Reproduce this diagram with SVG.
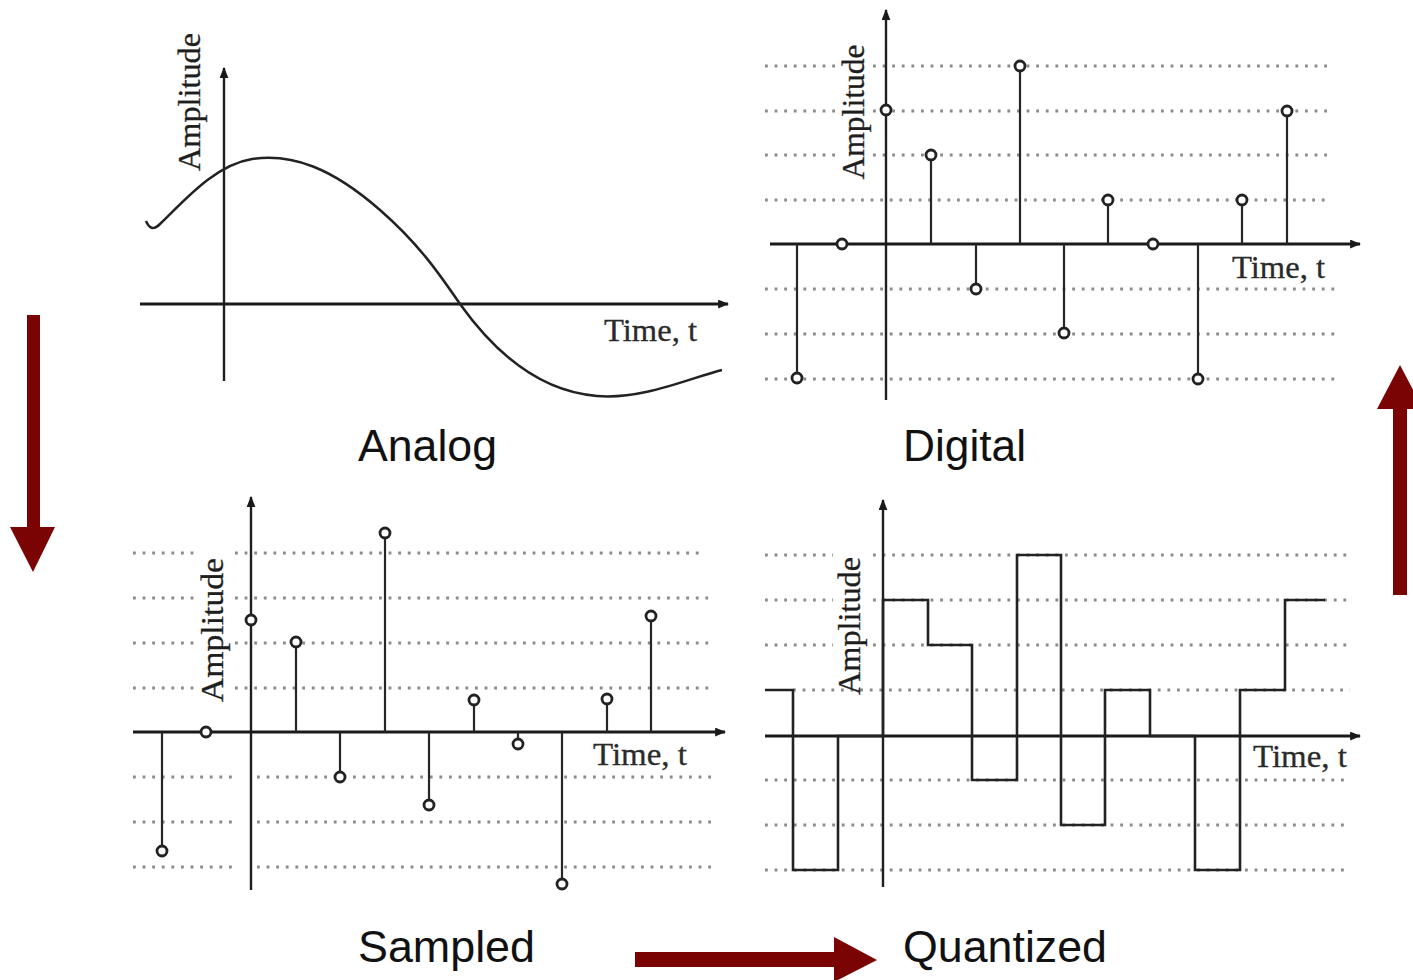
<svg xmlns="http://www.w3.org/2000/svg" width="1413" height="980" viewBox="0 0 1413 980">
  <style>
    .axis { stroke: #1f1f1f; stroke-width: 2.4; fill: none; }
    .haxis { stroke: #1a1a1a; stroke-width: 3; fill: none; }
    .grid { stroke: #8a8a8a; stroke-width: 2.8; stroke-dasharray: 2.8 6.8; fill: none; }
    .stem { stroke: #262626; stroke-width: 2.2; fill: none; }
    .dot { stroke: #222; stroke-width: 2.8; fill: #fff; }
    .wave { stroke: #222; stroke-width: 2.5; fill: none; }
    .step { stroke: #222; stroke-width: 2.6; fill: none; }
    .amp { font-family: "Liberation Serif", "Times New Roman", serif; font-size: 31px; fill: #1e1e1e; stroke: #1e1e1e; stroke-width: 0.3; text-anchor: middle; }
    .time { font-family: "Liberation Serif", "Times New Roman", serif; font-size: 32px; fill: #2a2a2a; stroke: #2a2a2a; stroke-width: 0.3; }
    .title { font-family: "Liberation Sans", Arial, sans-serif; font-size: 44px; fill: #111; }
    .flow { fill: #7a0303; }
  </style>
  <defs>
    <marker id="tip" viewBox="0 0 10 8" refX="9" refY="4" markerWidth="11" markerHeight="9" markerUnits="userSpaceOnUse" orient="auto">
      <path d="M0,0 L10,4 L0,8 Z" fill="#1a1a1a"/>
    </marker>
  </defs>

  <rect width="1413" height="980" fill="#fff"/>

  <!-- Analog: continuous waveform -->
  <g id="analog">
    <line class="axis" x1="224" y1="381" x2="224" y2="68" marker-end="url(#tip)"/>
    <line class="haxis" x1="140" y1="304" x2="728" y2="304" marker-end="url(#tip)"/>
    <path class="wave" d="M146,221 C149,228 153,231 160,224 C185,200 215,165 252,159 C292,153 332,168 380,210 C420,245 440,275 460,304 C500,360 545,392 597,396 C642,400 690,378 722,370"/>
    <text class="amp" transform="translate(200,102) rotate(-90)" textLength="138" lengthAdjust="spacingAndGlyphs">Amplitude</text>
    <text class="time" x="604" y="341" textLength="93" lengthAdjust="spacingAndGlyphs">Time, t</text>
    <text class="title" x="358" y="461" textLength="139" lengthAdjust="spacingAndGlyphs">Analog</text>
  </g>

  <!-- Digital: quantized samples -->
  <g id="digital">
    <g class="grid-lines">
      <path class="grid" d="M765,66 H838 M873,66 H1327 M765,111 H838 M873,111 H1327 M765,155 H838 M873,155 H1327 M765,200 H1327 M765,289 H1340 M765,334 H1340 M765,379 H1340"/>
    </g>
    <line class="axis" x1="886" y1="400" x2="886" y2="10" marker-end="url(#tip)"/>
    <line class="haxis" x1="770" y1="244" x2="1360" y2="244" marker-end="url(#tip)"/>
    <path class="stem" d="M797,244 V378 M931,244 V155 M976,244 V289 M1020,244 V66 M1064,244 V333 M1108,244 V200 M1198,244 V379 M1242,244 V200 M1287,244 V111"/>
    <circle class="dot" cx="797" cy="378" r="5"/>
    <circle class="dot" cx="842" cy="244" r="5"/>
    <circle class="dot" cx="886" cy="110" r="5"/>
    <circle class="dot" cx="931" cy="155" r="5"/>
    <circle class="dot" cx="976" cy="289" r="5"/>
    <circle class="dot" cx="1020" cy="66" r="5"/>
    <circle class="dot" cx="1064" cy="333" r="5"/>
    <circle class="dot" cx="1108" cy="200" r="5"/>
    <circle class="dot" cx="1153" cy="244" r="5"/>
    <circle class="dot" cx="1198" cy="379" r="5"/>
    <circle class="dot" cx="1242" cy="200" r="5"/>
    <circle class="dot" cx="1287" cy="111" r="5"/>
    <text class="amp" transform="translate(864,112) rotate(-90)" textLength="135" lengthAdjust="spacingAndGlyphs">Amplitude</text>
    <text class="time" x="1232" y="278" textLength="93" lengthAdjust="spacingAndGlyphs">Time, t</text>
    <text class="title" x="903" y="461" textLength="123" lengthAdjust="spacingAndGlyphs">Digital</text>
  </g>

  <!-- Sampled: discrete-time samples -->
  <g id="sampled">
    <g class="grid-lines">
      <path class="grid" d="M133,553 H195 M235,553 H703 M133,598 H195 M235,598 H715 M133,643 H195 M235,643 H715 M133,688 H195 M235,688 H715 M133,777 H237 M257,777 H715 M133,822 H237 M257,822 H715 M133,867 H237 M257,867 H715"/>
    </g>
    <line class="axis" x1="251" y1="890" x2="251" y2="497" marker-end="url(#tip)"/>
    <line class="haxis" x1="133" y1="732" x2="725" y2="732" marker-end="url(#tip)"/>
    <path class="stem" d="M162,732 V851 M296,732 V642 M340,732 V777 M385,732 V533 M429,732 V805 M474,732 V700 M518,732 V744 M562,732 V884 M607,732 V699 M651,732 V616"/>
    <circle class="dot" cx="162" cy="851" r="5"/>
    <circle class="dot" cx="206" cy="732" r="5"/>
    <circle class="dot" cx="251" cy="620" r="5"/>
    <circle class="dot" cx="296" cy="642" r="5"/>
    <circle class="dot" cx="340" cy="777" r="5"/>
    <circle class="dot" cx="385" cy="533" r="5"/>
    <circle class="dot" cx="429" cy="805" r="5"/>
    <circle class="dot" cx="474" cy="700" r="5"/>
    <circle class="dot" cx="518" cy="744" r="5"/>
    <circle class="dot" cx="562" cy="884" r="5"/>
    <circle class="dot" cx="607" cy="699" r="5"/>
    <circle class="dot" cx="651" cy="616" r="5"/>
    <text class="amp" transform="translate(223,630) rotate(-90)" textLength="144" lengthAdjust="spacingAndGlyphs">Amplitude</text>
    <text class="time" x="593" y="765" textLength="94" lengthAdjust="spacingAndGlyphs">Time, t</text>
    <text class="title" x="358" y="962" textLength="177" lengthAdjust="spacingAndGlyphs">Sampled</text>
  </g>

  <!-- Quantized: zero-order hold staircase -->
  <g id="quantized">
    <g class="grid-lines">
      <path class="grid" d="M765,555 H833 M873,555 H1350 M765,600 H833 M873,600 H1350 M765,645 H833 M873,645 H1350 M793,690 H1350 M765,780 H1350 M765,825 H1350 M765,870 H1350"/>
    </g>
    <line class="axis" x1="883" y1="887" x2="883" y2="500" marker-end="url(#tip)"/>
    <line class="haxis" x1="765" y1="736" x2="1360" y2="736" marker-end="url(#tip)"/>
    <path class="step" d="M765,690 H793 V870 H838 V736 H883 V600 H928 V645 H972 V780 H1017 V555 H1061 V825 H1105 V690 H1150 V736 H1195 V870 H1240 V690 H1285 V600 H1325"/>
    <text class="amp" transform="translate(860,626) rotate(-90)" textLength="138" lengthAdjust="spacingAndGlyphs">Amplitude</text>
    <text class="time" x="1253" y="767" textLength="94" lengthAdjust="spacingAndGlyphs">Time, t</text>
    <text class="title" x="903" y="962" textLength="204" lengthAdjust="spacingAndGlyphs">Quantized</text>
  </g>

  <!-- Process flow arrows -->
  <g id="connectors">
    <path class="flow" d="M27,315 H40 V527 H55 L33,572 L10,527 H27 Z"/>
    <path class="flow" d="M635,952 H834 V937 L877,960 L834,982 V967 H635 Z"/>
    <path class="flow" d="M1393,595 V409 H1377 L1400,365 L1423,409 H1407 V595 Z"/>
  </g>
</svg>
